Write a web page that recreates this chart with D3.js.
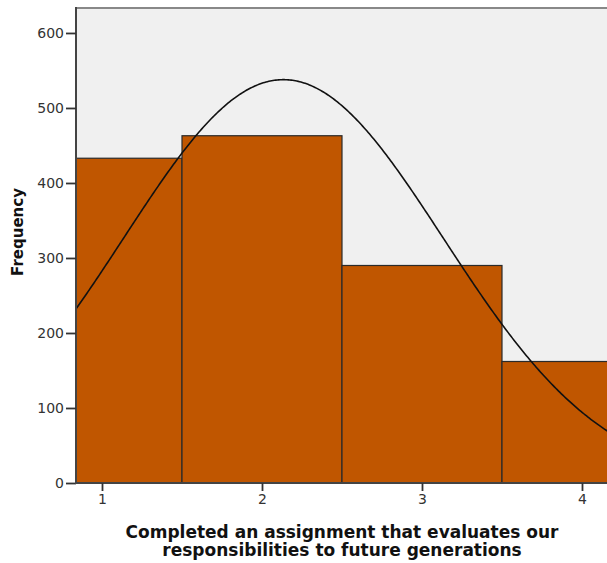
<!DOCTYPE html>
<html><head><meta charset="utf-8">
<script src="https://cdn.jsdelivr.net/npm/d3@7"></script>
<style>body{margin:0;background:#fff}svg{display:block}</style>
</head><body>
<svg id="c" width="607" height="563"></svg>
<script>
const binCenters = [1, 2, 3, 4];
const frequencies = [433, 463, 290, 162];
const yTicks = [0, 100, 200, 300, 400, 500, 600];
const xTicks = [1, 2, 3, 4];
const curveMean = 2.134;
const curveSD = 1.0;
const curveN = 1348;
const xLabelLines = ["Completed an assignment that evaluates our", "responsibilities to future generations"];
const yLabel = "Frequency";

const svg = d3.select("#c");
const L = 76, R = 607, T = 8, B = 483;
const x = d3.scaleLinear().domain([0.8375, 4.1563]).range([L, R]);
const y = d3.scaleLinear().domain([0, 633.3]).range([B, T]);

svg.append("defs").append("clipPath").attr("id", "clip")
  .append("rect").attr("x", L).attr("y", T).attr("width", R - L).attr("height", B - T);

svg.append("rect").attr("x", L).attr("y", T).attr("width", R - L).attr("height", B - T).attr("fill", "#f0f0f0");

const g = svg.append("g").attr("clip-path", "url(#clip)");
g.selectAll("rect.bar").data(binCenters).enter().append("rect")
  .attr("class", "bar")
  .attr("x", d => x(d - 0.5))
  .attr("width", d => x(d + 0.5) - x(d - 0.5))
  .attr("y", (d, i) => y(frequencies[i]))
  .attr("height", (d, i) => y(0) - y(frequencies[i]))
  .attr("fill", "#c05600").attr("stroke", "#2a2a2a").attr("stroke-width", 1.2);

const pts = d3.range(0, 401).map(i => {
  const xv = 0.8 + i * (4.3 - 0.8) / 400;
  const z = (xv - curveMean) / curveSD;
  return [xv, curveN * 1 / (curveSD * Math.sqrt(2 * Math.PI)) * Math.exp(-0.5 * z * z)];
});
g.append("path").datum(pts)
  .attr("d", d3.line().x(d => x(d[0])).y(d => y(d[1])))
  .attr("fill", "none").attr("stroke", "#111").attr("stroke-width", 1.6);

// top border
svg.append("line").attr("x1", L).attr("x2", R).attr("y1", T).attr("y2", T)
  .attr("stroke", "#888").attr("stroke-width", 2);

const yAxis = svg.append("g").attr("transform", `translate(${L},0)`)
  .call(d3.axisLeft(y).tickValues(yTicks).tickSize(10).tickPadding(2).tickFormat(d3.format("d")));
yAxis.select(".domain").attr("stroke", "#444").attr("stroke-width", 2).attr("d", `M0,${B}V${T - 1}`);
yAxis.selectAll(".tick line").attr("stroke", "#333").attr("stroke-width", 1.8);
yAxis.selectAll("text").attr("font-family", "DejaVu Sans").attr("font-size", 14).attr("fill", "#333");

const xAxis = svg.append("g").attr("transform", `translate(0,${B})`)
  .call(d3.axisBottom(x).tickValues(xTicks).tickSize(8).tickPadding(3).tickFormat(d3.format("d")));
xAxis.select(".domain").attr("stroke", "#444").attr("stroke-width", 2).attr("d", `M${L - 1},0H${R}`);
xAxis.selectAll(".tick line").attr("stroke", "#333").attr("stroke-width", 1.8);
xAxis.selectAll("text").attr("font-family", "DejaVu Sans").attr("font-size", 14).attr("fill", "#333");

svg.append("text").attr("x", 342).attr("y", 538).attr("text-anchor", "middle")
  .attr("font-family", "DejaVu Sans").attr("font-weight", "bold").attr("font-size", 17).attr("fill", "#111")
  .selectAll("tspan").data(xLabelLines).enter().append("tspan")
  .attr("x", 342).attr("dy", (d, i) => i === 0 ? 0 : 18).text(d => d);

svg.append("text").attr("transform", "translate(23,232) rotate(-90)").attr("text-anchor", "middle")
  .attr("font-family", "DejaVu Sans").attr("font-weight", "bold").attr("font-size", 15).attr("fill", "#111")
  .text(yLabel);
</script>
</body></html>
